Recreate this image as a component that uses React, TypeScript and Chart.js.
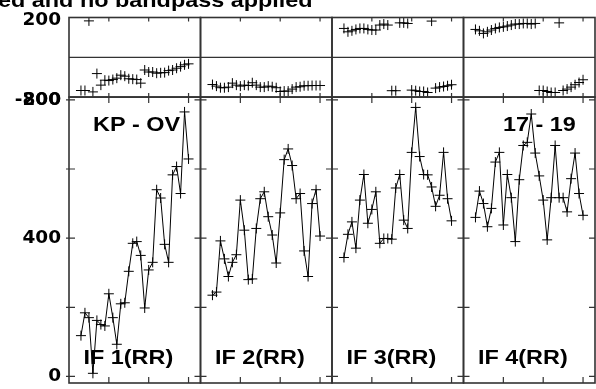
import React, { useEffect, useRef } from 'react';
import { Chart, registerables } from 'chart.js';

Chart.register(...registerables);

const TITLE = 'ed and no bandpass applied';
const BASELINE_LABEL = 'KP - OV';
const TIME_LABEL = '17 - 19';
const IF_LABELS = ['IF 1(RR)', 'IF 2(RR)', 'IF 3(RR)', 'IF 4(RR)'];

const CHANNELS = [3, 4, 5, 6, 7, 8, 9, 10, 11, 12, 13, 14, 15, 16, 17, 18, 19, 20, 21, 22, 23, 24, 25, 26, 27, 28, 29, 30];
const X_TICKS = [10, 20, 30];
const AMP_LABEL_TICKS = [0, 400, 800];
const AMP_MARK_TICKS = [0, 200, 400, 600, 800];
const PHASE_LABEL_TICKS = [-200, 200];

const AMP_IF1 = [118, 184, 170, 9, 162, 150, 146, 239, 170, 93, 210, 213, 304, 385, 390, 350, 198, 308, 330, 540, 516, 382, 330, 583, 607, 529, 765, 629];
const AMP_IF2 = [235, 244, 392, 340, 289, 330, 352, 510, 423, 280, 282, 428, 514, 534, 462, 409, 328, 473, 627, 658, 610, 514, 529, 363, 289, 500, 540, 406];
const AMP_IF3 = [344, 411, 447, 371, 510, 584, 443, 483, 534, 385, 399, 399, 397, 545, 584, 452, 428, 648, 778, 636, 584, 583, 548, 492, 524, 648, 514, 450];
const AMP_IF4 = [460, 536, 500, 433, 486, 620, 648, 438, 584, 517, 390, 569, 668, 677, 759, 646, 580, 510, 395, 517, 668, 517, 517, 476, 572, 646, 529, 466];

const PHASE_IF1 = [-167, -167, 183, -174, -82, -140, -115, -117, -112, -105, -90, -95, -108, -110, -112, -130, -64, -74, -74, -80, -78, -77, -67, -64, -55, -47, -38, -33];
const PHASE_IF2 = [-137, -145, -153, -153, -150, -130, -140, -145, -140, -142, -128, -140, -150, -150, -145, -148, -153, -172, -170, -170, -160, -150, -148, -143, -143, -142, -142, -142];
const PHASE_IF3 = [145, 128, 133, 140, 145, 145, 140, 137, 137, 162, 167, 162, -168, -168, 173, 173, 170, -165, -168, -172, -172, -177, 182, -155, -150, -147, -143, -138];
const PHASE_IF4 = [140, 133, 120, 128, 137, 145, 150, 153, 157, 162, 167, 167, 170, 170, 167, 170, -167, -167, -172, -177, -177, 173, -167, -160, -150, -138, -127, -113];

const AMPS = [AMP_IF1, AMP_IF2, AMP_IF3, AMP_IF4];
const PHASES = [PHASE_IF1, PHASE_IF2, PHASE_IF3, PHASE_IF4];
const X_IDS = ['x0', 'x1', 'x2', 'x3'];

function stretchedText(ctx: CanvasRenderingContext2D, text: string, x: number, y: number, sx: number) {
  ctx.save();
  ctx.translate(x, y);
  ctx.scale(sx, 1);
  ctx.fillText(text, 0, 0);
  ctx.restore();
}

const framePlugin = {
  id: 'frames',
  afterDatasetsDraw(chart: any) {
    const ctx: CanvasRenderingContext2D = chart.ctx;
    const xs = X_IDS.map((id) => chart.scales[id]);
    const yp = chart.scales.yp;
    const ya = chart.scales.ya;
    ctx.save();
    ctx.strokeStyle = '#333';
    ctx.lineWidth = 1.2;
    ctx.beginPath();
    const y0 = yp.getPixelForValue(0);
    ctx.moveTo(xs[0].left, y0);
    ctx.lineTo(xs[3].right, y0);
    ctx.stroke();
    ctx.lineWidth = 1.6;
    xs.forEach((s: any) => {
      ctx.strokeRect(s.left, yp.top, s.right - s.left, yp.bottom - yp.top);
      ctx.strokeRect(s.left, ya.top, s.right - s.left, ya.bottom - ya.top);
    });
    ctx.lineWidth = 1.2;
    ctx.beginPath();
    xs.forEach((s: any) => {
      X_TICKS.forEach((v) => {
        const px = s.getPixelForValue(v);
        ctx.moveTo(px, yp.top);
        ctx.lineTo(px, yp.top + 4);
        ctx.moveTo(px, yp.bottom - 4);
        ctx.lineTo(px, yp.bottom + 6);
        ctx.moveTo(px, ya.bottom - 6);
        ctx.lineTo(px, ya.bottom);
      });
      AMP_MARK_TICKS.forEach((v) => {
        const py = ya.getPixelForValue(v);
        ctx.moveTo(s.left, py);
        ctx.lineTo(s.left + 6, py);
        ctx.moveTo(s.right - 6, py);
        ctx.lineTo(s.right, py);
      });
    });
    AMP_MARK_TICKS.forEach((v) => {
      const py = ya.getPixelForValue(v);
      ctx.moveTo(xs[0].left - 3, py);
      ctx.lineTo(xs[0].left, py);
    });
    ctx.stroke();
    ctx.fillStyle = '#000';
    ctx.font = 'bold 20px "Liberation Sans", Arial, sans-serif';
    ctx.textAlign = 'left';
    ctx.textBaseline = 'alphabetic';
    const sx = 1.17;
    stretchedText(ctx, TITLE, -2, 6.7, sx);
    stretchedText(ctx, BASELINE_LABEL, xs[0].left + 24, 131, sx);
    stretchedText(ctx, TIME_LABEL, xs[3].left + 39.5, 131, sx);
    IF_LABELS.forEach((t, i) => stretchedText(ctx, t, xs[i].left + 14.5, 363.5, sx));
    ctx.restore();
  },
};

export default function App() {
  const ref = useRef<HTMLCanvasElement | null>(null);

  useEffect(() => {
    if (!ref.current) return;
    const datasets: any[] = [];
    AMPS.forEach((amp, i) => {
      datasets.push({
        label: 'amp' + (i + 1),
        data: CHANNELS.map((c, k) => ({ x: c, y: amp[k] })),
        xAxisID: X_IDS[i],
        yAxisID: 'ya',
        borderColor: '#000',
        borderWidth: 1,
        pointStyle: 'cross',
        pointRadius: 5,
        pointBorderColor: '#000',
        pointBorderWidth: 1,
        tension: 0,
        fill: false,
      });
    });
    PHASES.forEach((ph, i) => {
      datasets.push({
        label: 'phase' + (i + 1),
        data: CHANNELS.map((c, k) => ({ x: c, y: ph[k] })),
        xAxisID: X_IDS[i],
        yAxisID: 'yp',
        showLine: false,
        borderColor: '#000',
        pointStyle: 'cross',
        pointRadius: 5,
        pointBorderColor: '#000',
        pointBorderWidth: 1,
      });
    });

    const scales: any = {};
    X_IDS.forEach((id) => {
      scales[id] = {
        type: 'linear',
        axis: 'x',
        position: 'bottom',
        stack: 'xs',
        stackWeight: 1,
        min: 0,
        max: 33,
        grid: { display: false, drawTicks: false },
        border: { display: false },
        ticks: { display: false },
        afterFit: (s: any) => {
          s.height = 4;
          s.paddingLeft = 0;
          s.paddingRight = 0;
        },
      };
    });
    const tickFont = { family: 'DejaVu Sans', weight: 'bold', size: 18.5 };
    scales.yp = {
      type: 'linear',
      axis: 'y',
      position: 'left',
      stack: 'ys',
      stackWeight: 80,
      weight: 2,
      min: -200,
      max: 200,
      afterBuildTicks: (s: any) => {
        s.ticks = PHASE_LABEL_TICKS.map((v) => ({ value: v }));
      },
      ticks: { autoSkip: false, padding: 8, labelOffset: 3, font: tickFont, color: '#000' },
      grid: { display: false, drawTicks: false },
      border: { display: false },
      afterFit: (s: any) => {
        s.width = 69;
        s.paddingTop = 0;
        s.paddingBottom = 0;
      },
    };
    scales.ya = {
      type: 'linear',
      axis: 'y',
      position: 'left',
      stack: 'ys',
      stackWeight: 287.5,
      weight: 1,
      min: -19,
      max: 808,
      afterBuildTicks: (s: any) => {
        s.ticks = AMP_LABEL_TICKS.map((v) => ({ value: v }));
      },
      ticks: { autoSkip: false, padding: 8, font: tickFont, color: '#000' },
      grid: { display: false, drawTicks: false },
      border: { display: false },
      afterFit: (s: any) => {
        s.width = 69;
        s.paddingTop = 0;
        s.paddingBottom = 0;
      },
    };

    const chart = new Chart(ref.current, {
      type: 'line',
      data: { datasets },
      options: {
        animation: false,
        responsive: false,
        devicePixelRatio: 1,
        events: [],
        layout: { padding: { top: 17.5, left: 0, right: 0, bottom: 0 } },
        plugins: { legend: { display: false }, tooltip: { enabled: false } },
        scales,
      } as any,
      plugins: [framePlugin],
    });
    return () => chart.destroy();
  }, []);

  return (
    <div style={{ position: 'absolute', left: 0, top: 0, width: 596, height: 389, overflow: 'hidden', background: '#fff' }}>
      <canvas ref={ref} width={601} height={389} style={{ display: 'block', width: 601, height: 389 }} />
    </div>
  );
}
